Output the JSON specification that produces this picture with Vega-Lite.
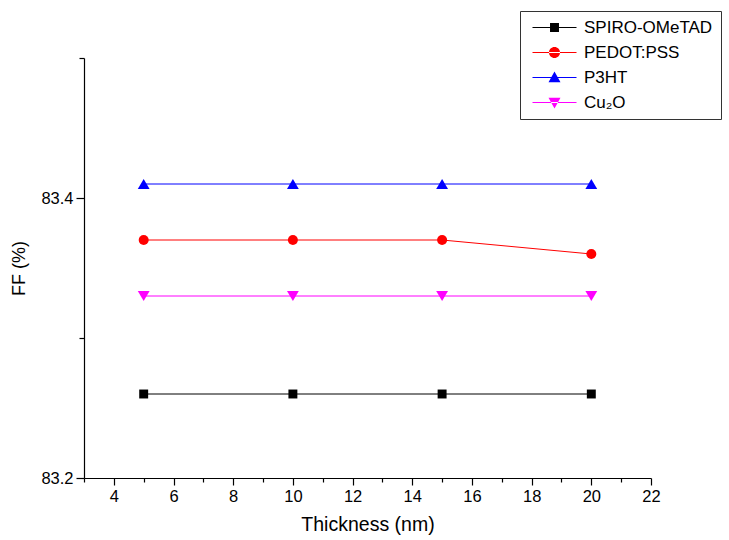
{
  "$schema": "https://vega.github.io/schema/vega-lite/v6.json",
  "width": 567,
  "height": 420,
  "autosize": {"type": "none"},
  "padding": {"left": 84, "top": 58, "right": 78, "bottom": 62},
  "background": "white",
  "config": {
    "view": {"stroke": null},
    "font": "Liberation Sans",
    "axis": {
      "domainColor": "black", "domainWidth": 1.2,
      "tickColor": "black", "tickWidth": 1.2,
      "labelColor": "black", "titleColor": "black",
      "labelFont": "Liberation Sans", "titleFont": "Liberation Sans",
      "labelFontSize": 16.5, "titleFontWeight": "normal",
      "grid": false
    },
    "legend": {"labelFont": "Liberation Sans"}
  },
  "data": {
    "values": [
      {"series": "SPIRO-OMeTAD", "thickness": 5, "ff": 83.26},
      {"series": "SPIRO-OMeTAD", "thickness": 10, "ff": 83.26},
      {"series": "SPIRO-OMeTAD", "thickness": 15, "ff": 83.26},
      {"series": "SPIRO-OMeTAD", "thickness": 20, "ff": 83.26},
      {"series": "PEDOT:PSS", "thickness": 5, "ff": 83.37},
      {"series": "PEDOT:PSS", "thickness": 10, "ff": 83.37},
      {"series": "PEDOT:PSS", "thickness": 15, "ff": 83.37},
      {"series": "PEDOT:PSS", "thickness": 20, "ff": 83.36},
      {"series": "P3HT", "thickness": 5, "ff": 83.41},
      {"series": "P3HT", "thickness": 10, "ff": 83.41},
      {"series": "P3HT", "thickness": 15, "ff": 83.41},
      {"series": "P3HT", "thickness": 20, "ff": 83.41},
      {"series": "Cu₂O", "thickness": 5, "ff": 83.33},
      {"series": "Cu₂O", "thickness": 10, "ff": 83.33},
      {"series": "Cu₂O", "thickness": 15, "ff": 83.33},
      {"series": "Cu₂O", "thickness": 20, "ff": 83.33}
    ]
  },
  "encoding": {
    "x": {
      "field": "thickness", "type": "quantitative",
      "scale": {"domain": [3, 22], "nice": false, "zero": false},
      "axis": {
        "title": "Thickness (nm)", "titleFontSize": 19.5, "titlePadding": 11,
        "values": [3,4,5,6,7,8,9,10,11,12,13,14,15,16,17,18,19,20,21,22],
        "labelExpr": "datum.value % 2 == 0 ? datum.label : ''",
        "tickSize": {"condition": {"test": "datum.value % 2 == 0", "value": 7}, "value": 4},
        "labelPadding": 3, "labelFlush": false, "labelOverlap": false
      }
    },
    "y": {
      "field": "ff", "type": "quantitative",
      "scale": {"domain": [83.2, 83.5], "nice": false, "zero": false},
      "axis": {
        "title": "FF (%)", "titleFontSize": 18, "titlePadding": 12,
        "values": [83.2, 83.3, 83.4, 83.5],
        "format": ".1f",
        "labelExpr": "(abs(datum.value - 83.2) < 0.001 || abs(datum.value - 83.4) < 0.001) ? datum.label : ''",
        "tickSize": {"condition": {"test": "abs(datum.value - 83.2) < 0.001 || abs(datum.value - 83.4) < 0.001", "value": 8}, "value": 5},
        "labelPadding": 3, "labelFlush": false, "labelOverlap": false
      }
    },
    "color": {
      "field": "series", "type": "nominal",
      "scale": {
        "domain": ["SPIRO-OMeTAD", "PEDOT:PSS", "P3HT", "Cu₂O"],
        "range": ["#000000", "#ff0000", "#0000ff", "#ff00ff"]
      },
      "legend": {
        "title": null,
        "orient": "none", "legendX": 436, "legendY": -47,
        "direction": "vertical",
        "strokeColor": "#333333", "padding": 8,
        "labelFontSize": 17, "labelColor": "black", "labelOffset": 39,
        "symbolSize": 256, "symbolStrokeWidth": 0, "symbolOpacity": 1,
        "symbolFillColor": "black",
        "rowPadding": 7,
        "symbolType": {"expr": "datum.value == 'SPIRO-OMeTAD' ? 'M-0.5,-0.07H5V0.07H-0.5Z M1.69,-0.56H2.81V0.56H1.69Z' : datum.value == 'PEDOT:PSS' ? 'M-0.5,-0.07H5V0.07H-0.5Z M1.56,0A0.69,0.69 0 1,0 2.94,0A0.69,0.69 0 1,0 1.56,0Z' : datum.value == 'P3HT' ? 'M-0.5,-0.07H5V0.07H-0.5Z M2.25,-0.75L3,0.6L1.5,0.6Z' : 'M-0.5,-0.07H5V0.07H-0.5Z M2.25,0.75L3,-0.6L1.5,-0.6Z'"}
      }
    }
  },
  "layer": [
    {
      "mark": {"type": "line", "strokeWidth": 1},
      "encoding": {"detail": {"field": "series"}}
    },
    {
      "transform": [{"filter": "datum.series == 'SPIRO-OMeTAD'"}],
      "mark": {"type": "point", "shape": "square", "filled": true, "opacity": 1, "size": 80}
    },
    {
      "transform": [{"filter": "datum.series == 'PEDOT:PSS'"}],
      "mark": {"type": "point", "shape": "circle", "filled": true, "opacity": 1, "size": 100}
    },
    {
      "transform": [{"filter": "datum.series == 'P3HT'"}],
      "mark": {"type": "point", "shape": "triangle-up", "filled": true, "opacity": 1, "size": 140}
    },
    {
      "transform": [{"filter": "datum.series == 'Cu₂O'"}],
      "mark": {"type": "point", "shape": "triangle-down", "filled": true, "opacity": 1, "size": 140}
    }
  ]
}
